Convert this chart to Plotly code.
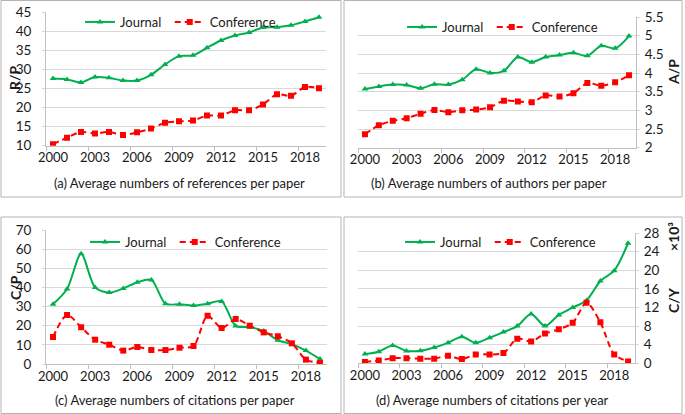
import plotly.graph_objects as go

W, H = 685, 414

years = list(range(2000, 2020))
tick_years = [2000, 2003, 2006, 2009, 2012, 2015, 2018]

# (a) references per paper
refs_journal = [27.6, 27.4, 26.6, 28.0, 27.8, 27.1, 27.1, 28.6, 31.3, 33.5,
                33.7, 35.7, 37.6, 38.9, 39.7, 41.0, 41.1, 41.6, 42.6, 43.7]
refs_conf = [10.4, 12.1, 13.6, 13.2, 13.6, 12.8, 13.5, 14.5, 16.0, 16.4,
             16.6, 17.9, 17.9, 19.3, 19.3, 20.8, 23.5, 23.1, 25.4, 25.1]
# (b) authors per paper
auth_journal = [3.57, 3.64, 3.69, 3.68, 3.59, 3.70, 3.69, 3.82, 4.10, 4.00,
                4.06, 4.43, 4.29, 4.43, 4.48, 4.54, 4.46, 4.73, 4.66, 4.99]
auth_conf = [2.36, 2.60, 2.72, 2.79, 2.91, 3.01, 2.95, 3.00, 3.02, 3.08,
             3.26, 3.24, 3.22, 3.40, 3.37, 3.46, 3.73, 3.66, 3.75, 3.94]
# (c) citations per paper
cit_journal = [31.2, 39.2, 57.6, 39.9, 37.3, 39.5, 42.7, 43.9, 31.5, 31.2,
               30.5, 31.5, 32.7, 19.9, 19.3, 17.2, 12.4, 10.4, 7.0, 2.6]
cit_conf = [14.1, 25.6, 19.2, 12.7, 10.1, 7.0, 8.9, 7.3, 7.3, 8.5,
            9.4, 25.2, 18.8, 23.5, 20.0, 16.5, 14.5, 10.8, 2.3, 0.5]
# (d) citations per year (x10^3)
cy_journal = [2.0, 2.5, 3.8, 2.65, 2.7, 3.4, 4.4, 5.7, 4.4, 5.5,
              6.7, 8.0, 10.6, 8.0, 10.4, 12.0, 13.5, 17.7, 19.9, 25.8]
cy_conf = [0.3, 0.6, 1.1, 1.1, 1.0, 1.0, 1.6, 0.9, 1.9, 1.9,
           2.2, 5.3, 4.7, 6.4, 7.3, 8.7, 13.0, 8.8, 1.9, 0.4]

GREEN = "#00B050"
RED = "#FF0000"
GRID = "#D9D9D9"
AXL = "#BFBFBF"
TXT = "#1A1A1A"
FONT = "Lato"
NB = "\u00a0"

def px(x):
    return x / W

def py(y):
    return 1 - y / H

panels = [
    dict(j=refs_journal, c=refs_conf, xd=(46, 326), yd=(12.3, 145.7), yr=(10, 45), dt=5, side="left",
         leg=(80, 22)),
    dict(j=auth_journal, c=auth_conf, xd=(358, 636), yd=(17, 147.7), yr=(2, 5.5), dt=0.5, side="right",
         leg=(402, 27)),
    dict(j=cit_journal, c=cit_conf, xd=(46, 327), yd=(230, 364), yr=(0, 70), dt=10, side="left",
         leg=(85, 242)),
    dict(j=cy_journal, c=cy_conf, xd=(358, 635), yd=(233, 363.3), yr=(0, 28), dt=4, side="right",
         leg=(400, 242)),
]

fig = go.Figure()
layout = dict(
    width=W, height=H,
    margin=dict(l=0, r=0, t=0, b=0, autoexpand=False),
    paper_bgcolor="white", plot_bgcolor="white",
    font=dict(family=FONT, size=13, color=TXT),
)

for i, p in enumerate(panels):
    n = "" if i == 0 else str(i + 1)
    legname = "legend" + n
    fig.add_trace(go.Scatter(
        x=years, y=p["j"], name="Journal" + NB, mode="lines+markers",
        line=dict(color=GREEN, width=2, shape="spline", smoothing=0.8),
        marker=dict(symbol="triangle-up", size=6, color=GREEN),
        xaxis="x" + n, yaxis="y" + n, legend=legname))
    fig.add_trace(go.Scatter(
        x=years, y=p["c"], name="Conference", mode="lines+markers",
        line=dict(color=RED, width=2, dash="6px,4px", shape="spline", smoothing=0.8),
        marker=dict(symbol="square", size=6, color=RED),
        xaxis="x" + n, yaxis="y" + n, legend=legname))
    layout["xaxis" + n] = dict(
        domain=[px(p["xd"][0]), px(p["xd"][1])],
        anchor="y" + n, range=[1999.5, 2019.5], automargin=False,
        tickmode="array", tickvals=tick_years, ticks="",
        showgrid=False, showline=True, linecolor=AXL, linewidth=1,
        zeroline=False, tickfont=dict(size=13, color=TXT),
        minor=dict(tickmode="linear", tick0=1999.5, dtick=3, ticks="outside",
                   ticklen=4, tickcolor=AXL, showgrid=False),
    )
    layout["yaxis" + n] = dict(
        domain=[py(p["yd"][1]), py(p["yd"][0])],
        anchor="x" + n, range=list(p["yr"]), dtick=p["dt"], tick0=0, automargin=False,
        side=p["side"], showgrid=True, gridcolor=GRID, gridwidth=1,
        showline=True, linecolor=AXL, linewidth=1, zeroline=False,
        ticks="outside", ticklen=3, tickcolor=GRID,
        tickfont=dict(size=13.5, color=TXT),
        ticklabelstandoff=8 if p["side"] == "left" else 2,
    )
    layout[legname] = dict(
        orientation="h", x=px(p["leg"][0]), y=py(p["leg"][1]),
        xanchor="left", yanchor="middle", bgcolor="rgba(0,0,0,0)",
        font=dict(size=13, color=TXT), traceorder="normal",
        itemclick=False,
    )

fig.update_layout(**layout)

shapes = []
for (x0, y0, x1, y1) in [(1, 0.5, 341, 197), (344, 0.5, 682, 197),
                         (1, 217, 341, 413.5), (344, 217, 682, 413.5)]:
    shapes.append(dict(type="rect", xref="paper", yref="paper",
                       x0=px(x0), x1=px(x1), y0=py(y1), y1=py(y0),
                       line=dict(color="#B4B4B4", width=1)))
fig.update_layout(shapes=shapes)

captions = [
    ("(a) Average numbers of references per paper", 179, 183),
    ("(b) Average numbers of authors per paper", 489, 183),
    ("(c) Average numbers of citations per paper", 175, 400),
    ("(d) Average numbers of citations per year", 492, 400),
]
ann = []
for t, x, y in captions:
    ann.append(dict(text=t, x=px(x), y=py(y), xref="paper", yref="paper",
                    showarrow=False, xanchor="center", yanchor="middle",
                    font=dict(size=13, color=TXT)))
ytitles = [("R/P", 15, 78), ("A/P", 673, 72), ("C/P", 15, 288), ("C/Y", 673, 300),
           ("×10³", 673, 237)]
for t, x, y in ytitles:
    ann.append(dict(text="<b>" + t + "</b>", x=px(x), y=py(y), xref="paper", yref="paper",
                    showarrow=False, xanchor="center", yanchor="middle", textangle=-90,
                    font=dict(size=14, color=TXT)))
fig.update_layout(annotations=ann)

fig.write_html("out.html", config={"displayModeBar": False},
               post_script="document.body.style.margin='0';document.body.style.padding='0';")
